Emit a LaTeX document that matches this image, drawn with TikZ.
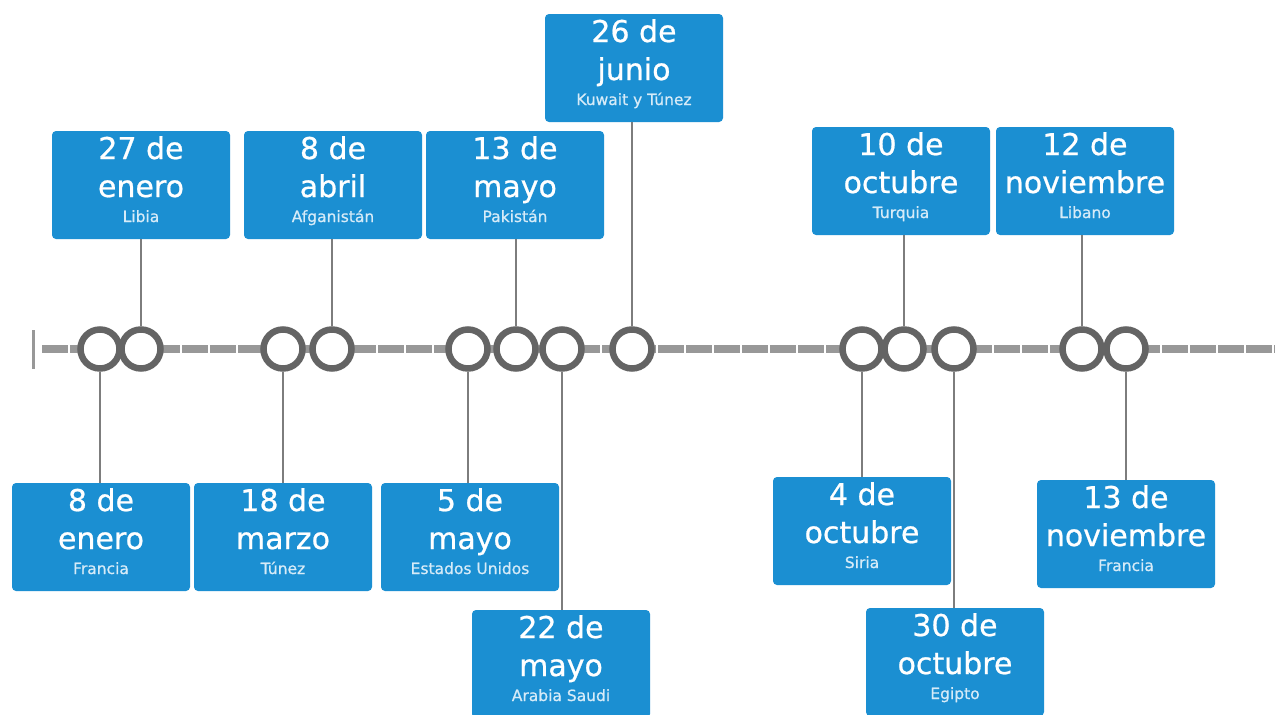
\documentclass[tikz,border=0pt]{standalone}
\usepackage{fontspec}
\setmainfont{DejaVu Sans}
\newfontfamily\evfont[FakeBold=0.7]{DejaVu Sans}
\definecolor{boxblue}{RGB}{27,143,210}
\definecolor{subtxt}{RGB}{214,235,248}
\definecolor{dotgray}{RGB}{100,100,100}
\definecolor{linegray}{RGB}{152,152,152}
\definecolor{conngray}{RGB}{125,125,125}
\tikzset{
  evb/.style={draw=none, fill=boxblue, rounded corners=4pt, minimum width=178pt, minimum height=108pt, inner sep=0pt},
  big/.style={text=white, font=\evfont\fontsize{30}{32}\selectfont, inner sep=0pt, anchor=base},
  small/.style={text=subtxt, font=\evfont\fontsize{15.5}{17}\selectfont, inner sep=0pt, anchor=base},
  dot/.style={circle, draw=dotgray, fill=white, line width=6.5pt, minimum size=39pt, inner sep=0pt},
  conn/.style={draw=conngray, line width=2pt},
  axis/.style={draw=linegray, line width=8pt, dash pattern=on 25.5pt off 2.5pt},
}
\newcommand\evbox[6]{%
  \node[evb] (#1) at ({#2+89},{#3+54}) {};
  \node[big] (#1a) at ({#2+89},{#3+28}) {#4};
  \node[big] (#1b) at ({#2+89},{#3+66}) {#5};
  \node[small] (#1c) at ({#2+89},{#3+91}) {#6};
}
\begin{document}
\begin{tikzpicture}[x=1pt,y=-1pt]
\useasboundingbox (0,0) rectangle (1275,715);
\clip (0,0) rectangle (1275,715);
\fill[white] (0,0) rectangle (1275,715);
% axis
\coordinate (axL) at (42,349);
\coordinate (axR) at (1275,349);
\coordinate (tkT) at (33,330);
\coordinate (tkB) at (33,369);
\draw[axis] (axL) -- (axR);
\draw[draw=linegray, line width=3pt] (tkT) -- (tkB);
% boxes
\evbox{b1}{52}{131}{27 de}{enero}{Libia}
\evbox{b2}{244}{131}{8 de}{abril}{Afganistán}
\evbox{b3}{426}{131}{13 de}{mayo}{Pakistán}
\evbox{b4}{545}{14}{26 de}{junio}{Kuwait y Túnez}
\evbox{b5}{812}{127}{10 de}{octubre}{Turquia}
\evbox{b6}{996}{127}{12 de}{noviembre}{Libano}
\evbox{b7}{12}{483}{8 de}{enero}{Francia}
\evbox{b8}{194}{483}{18 de}{marzo}{Túnez}
\evbox{b9}{381}{483}{5 de}{mayo}{Estados Unidos}
\evbox{b10}{472}{610}{22 de}{mayo}{Arabia Saudi}
\evbox{b11}{773}{477}{4 de}{octubre}{Siria}
\evbox{b12}{866}{608}{30 de}{octubre}{Egipto}
\evbox{b13}{1037}{480}{13 de}{noviembre}{Francia}
% dots
\node[dot] (c1) at (100,349) {};
\node[dot] (c2) at (141,349) {};
\node[dot] (c3) at (283,349) {};
\node[dot] (c4) at (332,349) {};
\node[dot] (c5) at (468,349) {};
\node[dot] (c6) at (516,349) {};
\node[dot] (c7) at (562,349) {};
\node[dot] (c8) at (632,349) {};
\node[dot] (c9) at (862,349) {};
\node[dot] (c10) at (904,349) {};
\node[dot] (c11) at (954,349) {};
\node[dot] (c12) at (1082,349) {};
\node[dot] (c13) at (1126,349) {};
% connectors
\draw[conn] (b1.south -| c2) -- (c2.north);
\draw[conn] (b2.south -| c4) -- (c4.north);
\draw[conn] (b3.south -| c6) -- (c6.north);
\draw[conn] (b4.south -| c8) -- (c8.north);
\draw[conn] (b5.south -| c10) -- (c10.north);
\draw[conn] (b6.south -| c12) -- (c12.north);
\draw[conn] (b7.north -| c1) -- (c1.south);
\draw[conn] (b8.north -| c3) -- (c3.south);
\draw[conn] (b9.north -| c5) -- (c5.south);
\draw[conn] (b10.north -| c7) -- (c7.south);
\draw[conn] (b11.north -| c9) -- (c9.south);
\draw[conn] (b12.north -| c11) -- (c11.south);
\draw[conn] (b13.north -| c13) -- (c13.south);
\end{tikzpicture}
\end{document}
